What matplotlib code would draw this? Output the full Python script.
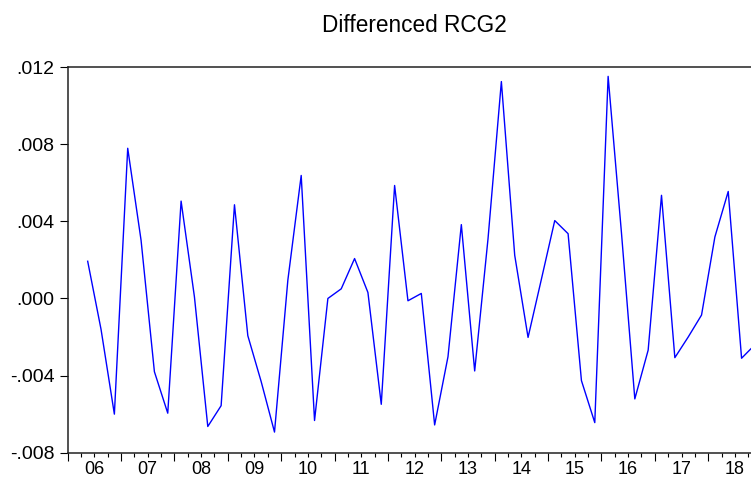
import numpy as np
import matplotlib
matplotlib.use("Agg")
import matplotlib.pyplot as plt

# Differenced RCG2, quarterly, 2006Q2 - 2018Q4
first_year = 2006
first_quarter = 2
values = [
    0.00193, -0.0016, -0.0060,
    0.00779, 0.00302, -0.0038, -0.00595,
    0.00505, 0.00008, -0.00664, -0.00556,
    0.00486, -0.00193, -0.00431, -0.00693,
    0.00095, 0.00638, -0.00633, 0.0000,
    0.0005, 0.00207, 0.00031, -0.00549,
    0.00586, -0.00012, 0.00026, -0.00656,
    -0.00302, 0.00383, -0.00376, 0.0031,
    0.01125, 0.00224, -0.00202, 0.0010,
    0.00404, 0.00336, -0.00426, -0.00644,
    0.01152, 0.0034, -0.00521, -0.00268,
    0.00535, -0.00307, -0.0020, -0.00086,
    0.00319, 0.00555, -0.0031, -0.0024,
]
years = list(range(2006, 2019))
year_labels = ["%02d" % (y % 100) for y in years]
y_ticks = [-0.008, -0.004, 0.000, 0.004, 0.008, 0.012]
y_labels = ["-.008", "-.004", ".000", ".004", ".008", ".012"]

plt.rcParams["font.family"] = ["Liberation Sans", "DejaVu Sans"]

# quarter index -> centre of the quarter in decimal years
idx = np.arange(len(values)) + (first_quarter - 1)
x = first_year + (idx + 0.5) / 4.0

fig = plt.figure(figsize=(7.51, 4.79), dpi=100)
ax = fig.add_axes([0.0901, 0.0549, 0.924, 0.805])
ax.plot(x, values, color="#0000ff", lw=1.0)

ax.set_xlim(2006, 2019)
ax.set_ylim(-0.008, 0.012)

ax.set_yticks(y_ticks, y_labels)
ax.tick_params(axis="y", direction="out", length=5.5, width=0.8, pad=4, labelsize=14)

# long ticks at year boundaries, short ticks at quarters, labels mid-year
ax.set_xticks(years + [2019])
ax.tick_params(axis="x", which="major", length=5.5, width=0.8, labelbottom=False)
quarters = [y + q / 4.0 for y in years for q in (1, 2, 3)]
q_labels = [year_labels[years.index(int(q))] if (q % 1) == 0.5 else "" for q in quarters]
ax.set_xticks(quarters, q_labels, minor=True)
ax.tick_params(axis="x", which="minor", length=3.1, width=0.8, pad=3, labelsize=13)

for side in ("left", "top", "bottom"):
    ax.spines[side].set_linewidth(1.1)
    ax.spines[side].set_color("#222222")
ax.spines["right"].set_visible(False)

ax.set_title("Differenced RCG2", fontsize=16.3, pad=25)

fig.savefig("out.png", dpi=100)
